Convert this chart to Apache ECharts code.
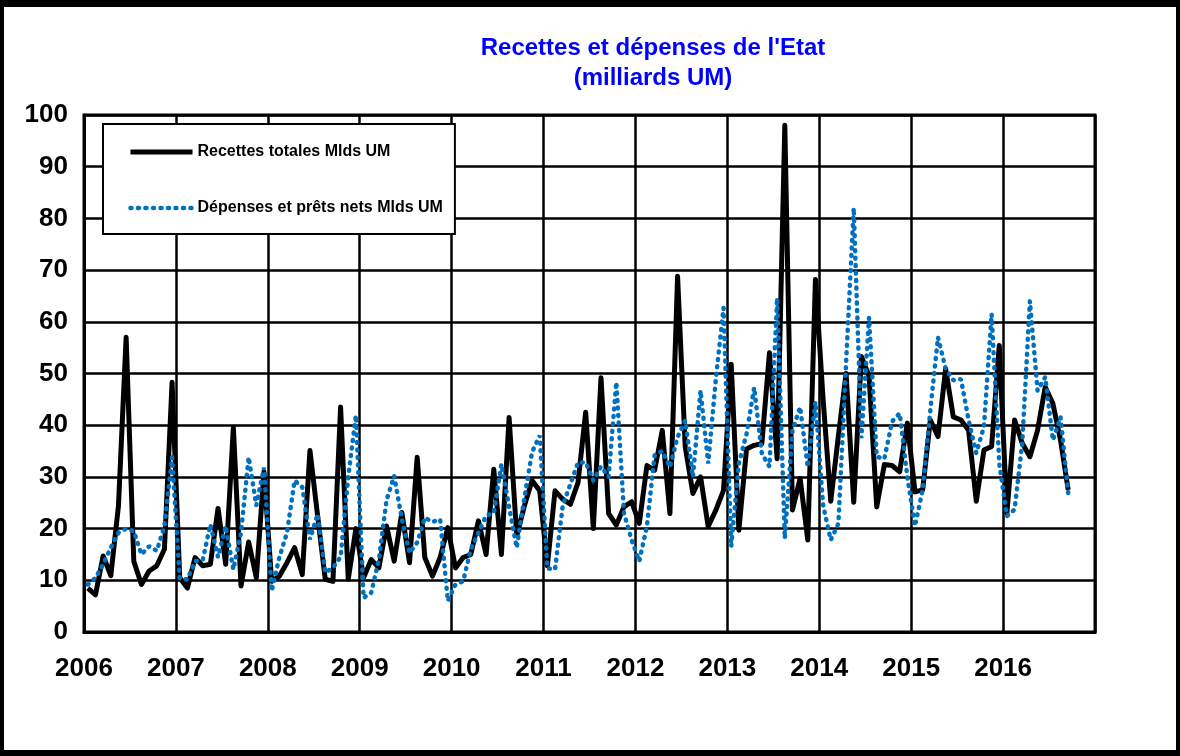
<!DOCTYPE html>
<html>
<head>
<meta charset="utf-8">
<script src="https://cdn.jsdelivr.net/npm/echarts@6/dist/echarts.min.js"></script>
<style>
  html, body { margin: 0; padding: 0; background: #fff; }
  #chart { position: absolute; left: 0; top: 0; width: 1180px; height: 756px; }
  #frame {
    position: absolute; left: 0; top: 0; width: 1180px; height: 756px;
    box-sizing: border-box; border-style: solid; border-color: #000;
    border-width: 7px 4px 6px 4px; pointer-events: none;
  }
</style>
</head>
<body>
<div id="chart"></div>
<div id="frame"></div>
<script>
// axe des années (une graduation par janvier)
var years = ["2006", "2007", "2008", "2009", "2010", "2011", "2012", "2013", "2014", "2015", "2016"];

// données mensuelles, janvier 2006 -> septembre 2016 (milliards UM)
var recettes = [
  8.5, 7.2, 14.7, 10.9, 24.4, 57, 13.7, 9.2, 11.8, 12.8, 16, 48.3,
  10.5, 8.5, 14.4, 12.8, 13.1, 23.9, 13.1, 39.6, 8.9, 17.4, 10.5, 31,
  9.8, 10.8, 13.4, 16.3, 11.1, 35.1, 22.5, 10.2, 9.8, 43.5, 10.2, 20,
  10.5, 14, 12.4, 20.5, 13.7, 23.1, 13.4, 33.8, 14.4, 10.8, 14.4, 20.2,
  12.4, 14.4, 15, 21.5, 15, 31.5, 15, 41.5, 18.6, 24.4, 29.3, 27.3,
  12.8, 27.3, 25.7, 24.7, 28.9, 42.5, 20, 49.2, 22.9, 20.7, 24.2, 25.2,
  21, 32.2, 31.3, 39, 22.9, 68.8, 35.8, 26.8, 30, 20.4, 23.6, 27.4,
  51.8, 19.7, 35.4, 36.1, 36.4, 54, 33.5, 98, 23.6, 29.7, 17.8, 68.2,
  45, 25.3, 38, 50, 25.1, 53.3, 49.5, 24.2, 32.4, 32.2, 31, 40.4,
  27.1, 27.5, 41, 37.8, 50.9, 41.6, 41, 39, 25.3, 35.2, 35.9, 55.4,
  23, 41, 36.5, 33.9, 39, 47.4, 44.2, 37.1, 27.5
];
var depenses = [
  9.2, 10.5, 13.1, 16.3, 19.2, 20, 19.5, 15, 16.6, 15.7, 20.5, 33.8,
  10.3, 10.2, 13.7, 13.9, 20.8, 14.5, 20.5, 12.1, 19.2, 33.8, 24.5, 31.8,
  7.9, 14.4, 19.2, 29.3, 28, 17.9, 22.8, 11.5, 12.4, 14.5, 30, 41.9,
  6.6, 7.6, 14, 25.5, 30.2, 21.8, 15.3, 17.3, 22.1, 21.3, 21.8, 6,
  9.2, 9.8, 16, 19.2, 22.5, 23, 32.5, 24.2, 16.3, 26, 34.8, 38,
  12.3, 12.1, 24.4, 28.6, 32.8, 32.8, 29.3, 32, 30, 48.3, 23, 17.8,
  13.7, 20.5, 34.2, 35, 31.9, 37.7, 40.9, 30, 46.7, 32.6, 49, 62.7,
  16.5, 32.6, 38.3, 47.3, 34.5, 32, 64.6, 18.1, 39, 43.5, 31.9, 44.5,
  24.5, 17.8, 21, 52, 82, 37.5, 60.8, 33.9, 33.5, 40.7, 42.3, 30,
  20.5, 27.5, 42.9, 57, 50.9, 48.7, 48.9, 41, 34.6, 39.7, 61.5, 32.6,
  22.4, 23.7, 36.5, 64, 46.7, 49.3, 37.1, 41.6, 26.9
];

var nomRecettes = "Recettes totales Mlds UM";
var nomDepenses = "Dépenses et prêts nets Mlds UM";

var font = "'Liberation Sans', Arial, sans-serif";

// chaque mois est placé au milieu de sa case (0.5, 1.5, ...)
function toPoints(arr) {
  return arr.map(function (v, i) {
    return [i + 0.5, v];
  });
}

var styleRecettes = { color: "#000", width: 5, join: "round" };
var styleDepenses = { color: "#0070c0", width: 4.5, type: [1, 6.5], cap: "round" };

var chart = echarts.init(document.getElementById("chart"));
chart.setOption({
  backgroundColor: "#fff",
  animation: false,
  title: {
    text: "Recettes et dépenses de l'Etat\n(milliards UM)",
    left: 653,
    top: 33,
    padding: 0,
    textAlign: "center",
    textStyle: {
      color: "#0000ff",
      fontFamily: font,
      fontWeight: "bold",
      fontSize: 24,
      lineHeight: 30
    }
  },
  legend: {
    left: 103,
    top: 124,
    orient: "vertical",
    backgroundColor: "#fff",
    borderColor: "#000",
    borderWidth: 2,
    borderRadius: 0,
    padding: [20, 12, 18, 25],
    itemWidth: 62,
    itemHeight: 14,
    itemGap: 40,
    textStyle: {
      color: "#000",
      fontFamily: font,
      fontWeight: "bold",
      fontSize: 16
    },
    data: [
      { name: nomRecettes, itemStyle: { opacity: 0 }, lineStyle: styleRecettes },
      { name: nomDepenses, itemStyle: { opacity: 0 }, lineStyle: styleDepenses }
    ]
  },
  grid: {
    left: 84,
    right: 85,
    top: 115,
    bottom: 124,
    show: true,
    borderColor: "#000",
    borderWidth: 3
  },
  xAxis: {
    type: "value",
    min: 0,
    max: years.length * 12,
    interval: 12,
    axisLine: { show: true, lineStyle: { color: "#000", width: 3 } },
    axisTick: { show: false },
    splitLine: { show: true, lineStyle: { color: "#000", width: 2.5 } },
    axisLabel: {
      margin: 24,
      color: "#000",
      fontFamily: font,
      fontWeight: "bold",
      fontSize: 26,
      formatter: function (v) {
        var y = years[v / 12];
        return y ? y : "";
      }
    }
  },
  yAxis: {
    type: "value",
    min: 0,
    max: 100,
    interval: 10,
    axisLine: { show: true, lineStyle: { color: "#000", width: 3 } },
    axisTick: { show: false },
    splitLine: { show: true, lineStyle: { color: "#000", width: 2.5 } },
    axisLabel: {
      margin: 16,
      color: "#000",
      fontFamily: font,
      fontWeight: "bold",
      fontSize: 26
    }
  },
  series: [
    {
      name: nomRecettes,
      type: "line",
      symbol: "none",
      data: toPoints(recettes),
      color: "#000",
      lineStyle: styleRecettes
    },
    {
      name: nomDepenses,
      type: "line",
      symbol: "none",
      data: toPoints(depenses),
      color: "#0070c0",
      lineStyle: styleDepenses
    }
  ]
});
</script>
</body>
</html>
